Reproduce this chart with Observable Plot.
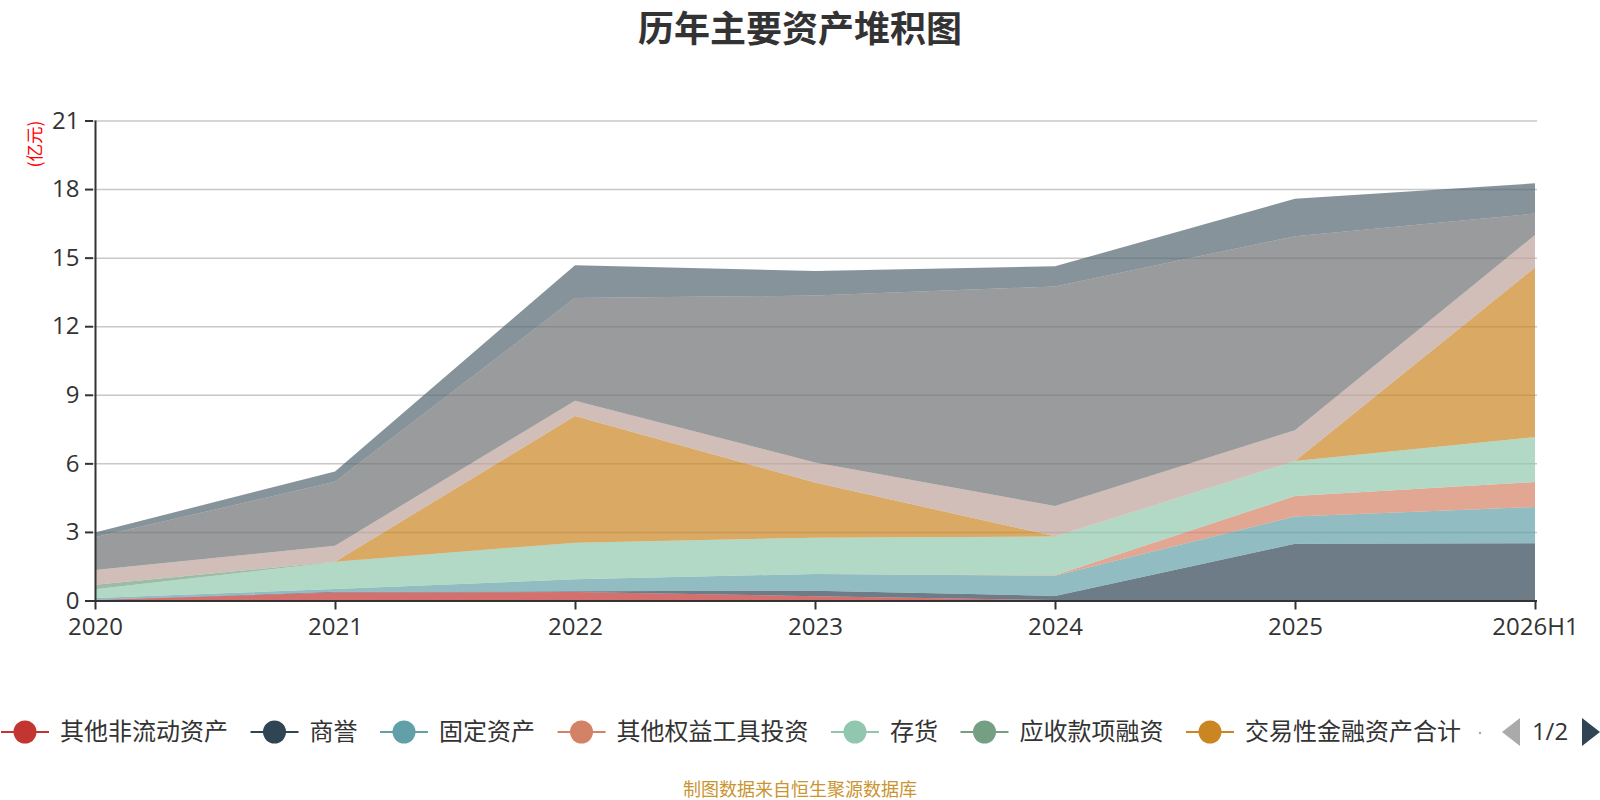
<!DOCTYPE html>
<html>
<head>
<meta charset="utf-8">
<script src="https://cdn.jsdelivr.net/npm/d3@7"></script>
<script src="https://cdn.jsdelivr.net/npm/@observablehq/plot@0.6"></script>
<style>
  body { margin: 0; width: 1600px; height: 800px; position: relative; background: #fff; overflow: hidden;
         font-family: "Open Sans", "Noto Sans CJK SC", sans-serif; }
  #title { position: absolute; top: 0; left: 0; width: 1600px; text-align: center; line-height: 48px;
           font: bold 36px "Noto Sans CJK SC", sans-serif; color: #333; }
  #chart { position: absolute; top: 0; left: 0; }
  #unit { position: absolute; left: 33px; top: 144px; transform: translate(-50%, -50%) rotate(-90deg);
          font: 17.5px "Noto Sans CJK SC", sans-serif; color: #ff0000; white-space: nowrap; }
  #legend { position: absolute; top: 700px; left: 0; }
  #footer { position: absolute; top: 776px; left: 0; width: 1600px; text-align: center;
            font: 18px "Noto Sans CJK SC", sans-serif; color: #c99530; line-height: 24px; }
</style>
</head>
<body>
<div id="title">历年主要资产堆积图</div>
<div id="chart"></div>
<div id="unit">(亿元)</div>
<div id="legend"></div>
<div id="footer">制图数据来自恒生聚源数据库</div>
<script>
// ---- data ----
const years = ["2020", "2021", "2022", "2023", "2024", "2025", "2026H1"];
const seriesNames = ["其他非流动资产", "商誉", "固定资产", "其他权益工具投资", "存货", "应收款项融资", "交易性金融资产合计", "应收账款", "货币资金", "其他流动资产"];
const seriesColors = ["#c23531", "#2f4554", "#61a0a8", "#d48265", "#91c7ae", "#749f83", "#ca8622", "#bda29a", "#6e7074", "#546570"];
const otherNonCurrent = [0.02, 0.35, 0.37, 0.19, 0.02, 0.00, 0.00];
const goodwill        = [0.01, 0.03, 0.03, 0.24, 0.18, 2.48, 2.51];
const fixedAssets     = [0.08, 0.12, 0.53, 0.73, 0.88, 1.20, 1.58];
const otherEquity     = [0.00, 0.00, 0.00, 0.00, 0.02, 0.89, 1.09];
const inventory       = [0.38, 1.18, 1.59, 1.59, 1.70, 1.53, 1.97];
const receivablesFin  = [0.20, 0.02, 0.01, 0.00, 0.00, 0.00, 0.00];
const tradingAssets   = [0.00, 0.00, 5.54, 2.41, 0.01, 0.00, 7.42];
const receivables     = [0.64, 0.70, 0.67, 0.88, 1.32, 1.35, 1.42];
const cash            = [1.44, 2.79, 4.49, 7.30, 9.61, 8.49, 0.94];
const otherCurrent    = [0.21, 0.45, 1.44, 1.08, 0.88, 1.64, 1.32];
const seriesValues = [otherNonCurrent, goodwill, fixedAssets, otherEquity, inventory, receivablesFin, tradingAssets, receivables, cash, otherCurrent];
const yTicks = [0, 3, 6, 9, 12, 15, 18, 21];
const legendCount = 7; // page 1 of legend

const data = seriesNames.flatMap((s, i) => years.map((y, j) => ({year: y, series: s, value: seriesValues[i][j]})));

const chart = Plot.plot({
  width: 1600, height: 660,
  marginTop: 120.5, marginBottom: 59.5, marginLeft: 93, marginRight: 63,
  x: {type: "point", domain: years, padding: 0},
  y: {domain: [0, 21]},
  color: {domain: seriesNames, range: seriesColors},
  style: {fontFamily: '"Open Sans", "Noto Sans CJK SC", sans-serif', fontSize: "24px", color: "#333", background: "transparent", overflow: "visible"},
  marks: [
    Plot.gridY(yTicks, {stroke: "#c8c8c8", strokeOpacity: 1, strokeWidth: 1.5}),
    Plot.areaY(data, {x: "year", y: "value", z: "series", fill: "series", fillOpacity: 0.7}),
    Plot.ruleY([0], {stroke: "#333", strokeWidth: 2}),
    Plot.ruleX([years[0]], {stroke: "#333", strokeWidth: 2}),
    Plot.axisY(yTicks, {tickSize: 8, tickPadding: 6, fontSize: 24, label: null, strokeWidth: 2}),
    Plot.axisX({tickSize: 9, tickPadding: 8, fontSize: 24, label: null, strokeWidth: 2})
  ]
});
document.getElementById("chart").appendChild(chart);

// ---- legend ----
const svg = d3.select("#legend").append("svg").attr("width", 1600).attr("height", 64)
  .style("font-family", '"Noto Sans CJK SC", sans-serif');
const cy = 32;
let x = 1;
for (let i = 0; i < legendCount; i++) {
  const c = seriesColors[i];
  const cx = x + 24;
  svg.append("line").attr("x1", x).attr("x2", x + 48).attr("y1", cy).attr("y2", cy).attr("stroke", c).attr("stroke-width", 2);
  svg.append("circle").attr("cx", cx).attr("cy", cy).attr("r", 11.5).attr("fill", c);
  const t = svg.append("text").attr("x", cx + 35).attr("y", cy).attr("dy", "0.35em")
    .attr("font-size", 24).attr("fill", "#333").text(seriesNames[i]);
  x = cx + 35 + t.node().getComputedTextLength() + 22.5;
}
// clipped start of next item
svg.append("circle").attr("cx", 1480).attr("cy", cy + 1).attr("r", 1.2).attr("fill", seriesColors[legendCount]);
// pager
svg.append("path").attr("d", `M1520,${cy - 14} L1502,${cy} L1520,${cy + 14} Z`).attr("fill", "#aaa");
svg.append("text").attr("x", 1550).attr("y", cy).attr("dy", "0.35em").attr("text-anchor", "middle")
  .attr("font-size", 24).attr("fill", "#333").style("font-family", '"Open Sans", sans-serif').text("1/2");
svg.append("path").attr("d", `M1582,${cy - 14} L1600,${cy} L1582,${cy + 14} Z`).attr("fill", "#2f4554");
</script>
</body>
</html>
